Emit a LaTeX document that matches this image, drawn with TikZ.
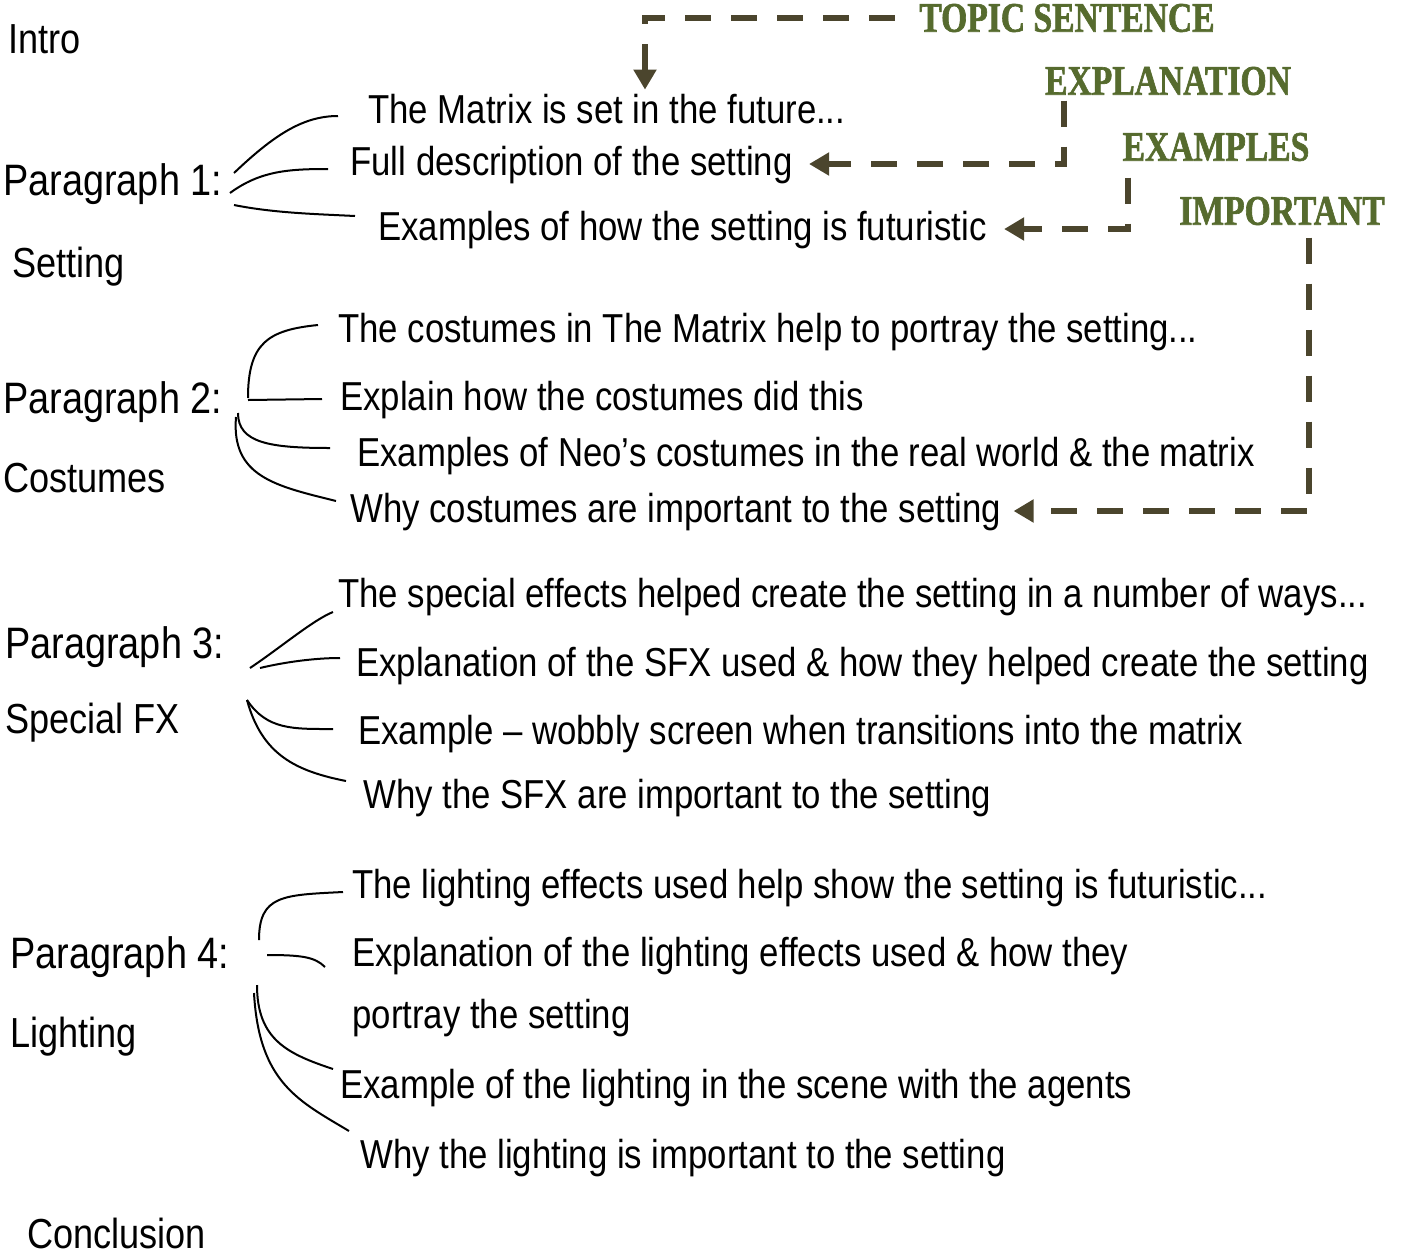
\documentclass[tikz,border=0pt]{standalone}
\usepackage{fontspec}
\setmainfont{Liberation Sans}[FakeStretch=0.86]
\newfontfamily\stencil{Liberation Serif}[FakeStretch=0.8, FakeBold=1.5]
\usepackage{tikz}
\usetikzlibrary{arrows.meta,positioning}
\definecolor{tagline}{RGB}{75,69,45}
\definecolor{taggreen}{RGB}{86,107,46}

\begin{document}
\begin{tikzpicture}[
    x=0.5pt, y=-0.5pt,
    heading/.style={anchor=base west, inner sep=0pt, font=\fontsize{22}{26}\selectfont},
    subhead/.style={anchor=base west, inner sep=0pt, font=\fontsize{21}{25}\selectfont},
    item/.style={anchor=base west, inner sep=0pt, text height=15pt, text depth=4pt,
                 font=\fontsize{20.2}{24}\selectfont},
    tag/.style={inner sep=0pt, text=taggreen, font=\stencil\bfseries\fontsize{21}{25}\selectfont},
    branch/.style={line width=1pt, draw=black},
    pointer/.style={line width=3pt, draw=tagline, dash pattern=on 13pt off 10pt,
                    -{Triangle[length=10pt, width=11pt]}}
]
    \useasboundingbox (0,0) rectangle (1403,1254);

    % Intro
    \node[subhead] (intro) at (8,53) {Intro};

    % Paragraph 1 (setting)
    \node[heading] (p1) at (3,195) {Paragraph 1:};
    \node[subhead] (p1sub) at (12,277) {Setting};
    \node[item] (m11) at (368,123) {The Matrix is set in the future...};
    \node[item] (m12) at (350,175) {Full description of the setting};
    \node[item] (m13) at (378,240) {Examples of how the setting is futuristic};

    % Paragraph 2 (costumes)
    \node[heading] (p2) at (3,413) {Paragraph 2:};
    \node[subhead] (p2sub) at (3,492) {Costumes};
    \node[item] (m21) at (338,342) {The costumes in The Matrix help to portray the setting...};
    \node[item] (m22) at (340,410) {Explain how the costumes did this};
    \node[item] (m23) at (357,466) {Examples of Neo’s costumes in the real world \& the matrix};
    \node[item] (m24) at (350,522) {Why costumes are important to the setting};

    % Paragraph 3 (special fx)
    \node[heading] (p3) at (5,658) {Paragraph 3:};
    \node[subhead] (p3sub) at (5,733) {Special FX};
    \node[item] (m31) at (338,607) {The special effects helped create the setting in a number of ways...};
    \node[item] (m32) at (356,676) {Explanation of the SFX used \& how they helped create the setting};
    \node[item] (m33) at (358,744) {Example – wobbly screen when transitions into the matrix};
    \node[item] (m34) at (363,808) {Why the SFX are important to the setting};

    % Paragraph 4 (lighting)
    \node[heading] (p4) at (10,968) {Paragraph 4:};
    \node[subhead] (p4sub) at (10,1047) {Lighting};
    \node[item] (m41) at (352,898) {The lighting effects used help show the setting is futuristic...};
    \node[item] (m42) at (352,966) {Explanation of the lighting effects used \& how they};
    \node[item] (m42b) at (352,1028) {portray the setting};
    \node[item] (m43) at (340,1098) {Example of the lighting in the scene with the agents};
    \node[item] (m44) at (360,1168) {Why the lighting is important to the setting};

    % Conclusion
    \node[subhead] (concl) at (27,1248) {Conclusion};

    % Tags (top right)
    \node[tag] (topic) at (1067,18) {TOPIC SENTENCE};
    \node[tag] (expl) at (1168,81) {EXPLANATION};
    \node[tag] (exa) at (1216,147) {EXAMPLES};
    \node[tag] (imp) at (1282,211) {IMPORTANT};

    % Branch start points
    \coordinate (b1a) at (234,173);
    \coordinate (b1b) at (230,193);
    \coordinate (b1c) at (234,205);
    \coordinate (b2a) at (248,398);
    \coordinate (b2b) at (248,400);
    \coordinate (b2c) at (238,413);
    \coordinate (b2d) at (236,417);
    \coordinate (b3a) at (250,668);
    \coordinate (b3b) at (260,668);
    \coordinate (b3c) at (247,700);
    \coordinate (b4a) at (259,940);
    \coordinate (b4b) at (267,955);
    \coordinate (b4c) at (257,985);
    \coordinate (b4d) at (254,993);

    % Branches paragraph 1
    \draw[branch] (b1a) .. controls +(40,-38) and +(-35,0) .. ([shift={(-30,4)}]m11.west);
    \draw[branch] (b1b) .. controls +(30,-22) and +(-40,0) .. ([shift={(-22,5)}]m12.west);
    \draw[branch] (b1c) .. controls +(40,8) and +(-40,-2) .. ([shift={(-23,-13)}]m13.west);

    % Branches paragraph 2
    \draw[branch] (b2a) .. controls +(0,-55) and +(-50,5) .. ([shift={(-20,-6)}]m21.west);
    \draw[branch] (b2b) -- ([shift={(-18,0)}]m22.west);
    \draw[branch] (b2c) .. controls +(0,30) and +(-60,0) .. ([shift={(-27,-7)}]m23.west);
    \draw[branch] (b2d) .. controls +(-5,60) and +(-60,-15) .. ([shift={(-14,-10)}]m24.west);

    % Branches paragraph 3
    \draw[branch] (b3a) .. controls +(30,-20) and +(-20,8) .. ([shift={(-5,16)}]m31.west);
    \draw[branch] (b3b) .. controls +(25,-6) and +(-25,0) .. ([shift={(-16,-7)}]m32.west);
    \draw[branch] (b3c) .. controls +(20,30) and +(-40,0) .. ([shift={(-25,-4)}]m33.west);
    \draw[branch] (b3c) .. controls +(15,55) and +(-50,-10) .. ([shift={(-17,-16)}]m34.west);

    % Branches paragraph 4
    \draw[branch] (b4a) .. controls +(0,-45) and +(-60,3) .. ([shift={(-9,5)}]m41.west);
    \draw[branch] (b4b) .. controls +(35,0) and +(-10,-10) .. ([shift={(-27,12)}]m42.west);
    \draw[branch] (b4c) .. controls +(0,55) and +(-45,-15) .. ([shift={(-7,-18)}]m43.west);
    \draw[branch] (b4d) .. controls +(5,90) and +(-50,-30) .. ([shift={(-11,-26)}]m44.west);

    % Tag pointers
    \draw[pointer] ([xshift=-12pt]topic.west) -| ([shift={(277,-3)}]m11.north west);
    \draw[pointer] ([xshift=9.5pt,yshift=-2.5pt]expl.south west) |- ([xshift=8pt]m12.east);
    \draw[pointer] ([xshift=3pt,yshift=-8pt]exa.south west) |- ([xshift=8.5pt]m13.east);
    \draw[pointer] ([xshift=13.5pt,yshift=-6pt]imp.south) |- ([xshift=6pt]m24.east);
\end{tikzpicture}
\end{document}
